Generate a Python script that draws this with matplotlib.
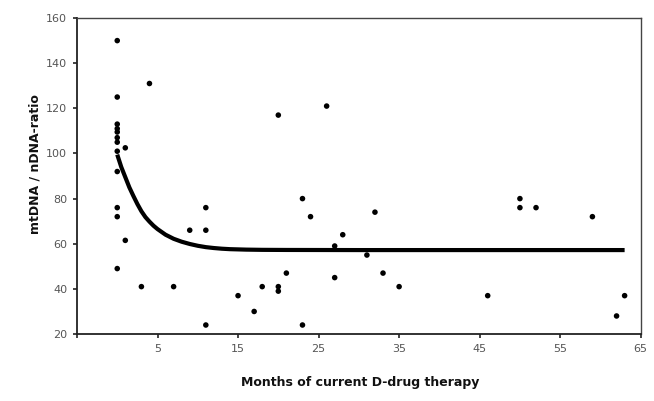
import numpy as np
import matplotlib
matplotlib.use('Agg')
import matplotlib.pyplot as plt

# measured points (months, ratio)
months = [0, 0, 0, 0, 0, 0, 0, 0, 0, 0, 0, 0,
          1, 1, 3, 4, 7, 9, 11, 11, 11, 15, 17, 18, 20, 20, 20, 21,
          23, 23, 24, 26, 27, 27, 28, 31, 32, 33, 35, 46, 50, 50, 52, 59, 62, 63]
ratio = [150, 125, 113, 111, 109.5, 107, 105, 101, 92, 76, 72, 49,
         102.5, 61.5, 41, 131, 41, 66, 76, 66, 24, 37, 30, 41, 117, 41, 39, 47,
         80, 24, 72, 121, 59, 45, 64, 55, 74, 47, 41, 37, 80, 76, 76, 72, 28, 37]

# fitted curve
curve_x = [0, 0.5, 1, 1.5, 2, 2.5, 3, 3.5, 4, 4.5, 5, 6, 7, 8, 9, 10, 11, 12, 13, 14, 16, 18, 21, 30, 45, 63]
curve_y = [99.5, 94, 89.5, 85, 81.2, 77.6, 74.4, 71.8, 69.8, 68, 66.5, 64, 62.2, 60.9, 59.9,
           59.1, 58.5, 58.1, 57.8, 57.6, 57.4, 57.3, 57.25, 57.2, 57.2, 57.2]

x_ticks = [-5, 5, 15, 25, 35, 45, 55, 65]
x_labels = ['', '5', '15', '25', '35', '45', '55', '65']
y_ticks = [20, 40, 60, 80, 100, 120, 140, 160]

fig = plt.figure(figsize=(6.54, 4.01), dpi=100)
ax = fig.add_axes([0.1177, 0.167, 0.8620, 0.788])

ax.plot(curve_x, curve_y, color='black', lw=3.0, solid_capstyle='butt',
        solid_joinstyle='round', zorder=2)
ax.scatter(months, ratio, s=16, color='black', edgecolors='none', zorder=3, clip_on=False)

ax.set_xlim(-5, 65)
ax.set_ylim(20, 160)
ax.set_xticks(x_ticks)
ax.set_xticklabels(x_labels)
ax.set_yticks(y_ticks)

for side in ['left', 'bottom']:
    ax.spines[side].set_color('#222222')
    ax.spines[side].set_linewidth(1.3)
for side in ['top', 'right']:
    ax.spines[side].set_color('#444444')
    ax.spines[side].set_linewidth(1.0)

ax.tick_params(axis='both', length=3, width=1.2, color='#222222',
               labelsize=8, labelcolor='#555555', pad=4)

fig.text(0.55, 0.045, 'Months of current D-drug therapy', ha='center', va='center',
         fontsize=9, fontweight='bold', color='#111111')
fig.text(0.053, 0.59, 'mtDNA / nDNA-ratio', ha='center', va='center', rotation=90,
         fontsize=9, fontweight='bold', color='#111111')

fig.savefig('out.png', dpi=100)
